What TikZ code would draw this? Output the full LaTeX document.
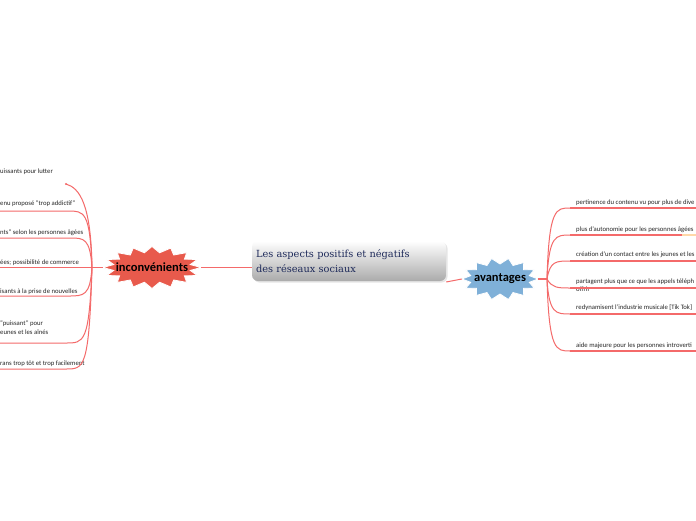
\documentclass[tikz,border=0pt]{standalone}
\usepackage{fontspec}
\setmainfont{Carlito}
\newfontfamily\titlefont{DejaVu Serif}
\usetikzlibrary{shadows}
\definecolor{lnred}{HTML}{F46A6A}
\definecolor{incfill}{HTML}{E85A4C}
\definecolor{avfill}{HTML}{7FB0D8}
\definecolor{navy}{HTML}{1E2A5A}
\definecolor{lorange}{HTML}{FFD8A8}
\tikzset{
  ln/.style={draw=lnred, line width=1pt},
  rln/.style={draw=lnred, line width=1.4pt},
  small/.style={inner sep=0pt, anchor=base west, font=\fontsize{6.7}{8}\selectfont, text=black!85},
  central/.style={rounded corners=6pt, minimum width=194pt, minimum height=40pt,
     top color=white, bottom color=black!33, text=navy, align=left, text width=186pt,
     font=\titlefont\fontsize{9.8}{15}\selectfont,
     drop shadow={opacity=0.2, shadow xshift=1.5pt, shadow yshift=-1.5pt}},
  starlabel/.style={inner sep=0pt, font=\bfseries\fontsize{12.5}{14}\selectfont, text=black}
}
\begin{document}
\begin{tikzpicture}[x=1pt,y=-1pt]
\useasboundingbox[fill=white] (0,0) rectangle (696,520);

% central node
\node[central] (c) at (349,261) {Les aspects positifs et négatifs\\des réseaux sociaux};

% stars
\filldraw[fill=incfill, draw=white, line width=0.8pt] plot[variable=\k, samples at={0,...,31}]
  ({152+(49-10*mod(\k,2))*cos(\k*11.25)}, {267.5+(21-6*mod(\k,2))*sin(\k*11.25)}) -- cycle;
\node[starlabel, minimum width=98pt, minimum height=42pt] (inc) at (152,267.5) {inconvénients};

\filldraw[fill=avfill, draw=white, line width=0.8pt] plot[variable=\k, samples at={0,...,27}]
  ({500+(38-8*mod(\k,2))*cos(\k*360/28)}, {279+(21-6*mod(\k,2))*sin(\k*360/28)}) -- cycle;
\node[starlabel, minimum width=76pt, minimum height=42pt] (av) at (500,279) {avantages};

% main connectors
\draw[ln] (inc.east -| c.west) -- (inc.east);
\draw[ln] (c.east |- 0,282) -- (av.west);

% hubs
\coordinate (lh) at (92,267.5);
\coordinate (rh) at (547,279);
\coordinate (ledge) at (0,267.5);
\coordinate (redge) at (696,0);
\draw[ln] (inc.west) -- (lh);
\draw[rln] (av.east) -- (rh);

% left branches
\coordinate (l1) at (66,184);
\coordinate (l2) at (68,211);
\coordinate (l3) at (70,238);
\coordinate (l5) at (68,296);
\coordinate (l6) at (66,343);
\coordinate (l7) at (66,369);

\node[small] (t1) at (0,173) {uissants pour lutter};
\node[small] (t2) at (0,205) {enu proposé "trop addictif"};
\node[small] (t3) at (0,234) {nts" selon les personnes âgées};
\node[small] (t4) at (0,264) {ées; possibilité de commerce};
\node[small] (t5) at (0,293) {isants à la prise de nouvelles};
\node[small] (t6a) at (0,325) {"puissant" pour};
\node[small] (t6b) at (0,334) {eunes et les aînés};
\node[small] (t7) at (0,365) {rans trop tôt et trop facilement};

\draw[ln] (lh) .. controls (91,205) and (80,188) .. (l1);
\fill[lnred] (l1) circle (1.1pt);
\draw[ln] (lh) .. controls (90,211) and (84,211) .. (l2) -- (l2 -| ledge);
\draw[ln] (lh) .. controls (90,238) and (84,238) .. (l3) -- (l3 -| ledge);
\draw[ln] (lh) -- (ledge);
\draw[ln] (lh) .. controls (90,296) and (84,296) .. (l5) -- (l5 -| ledge);
\draw[ln] (lh) .. controls (89,343) and (84,343) .. (l6) -- (l6 -| ledge);
\draw[ln] (lh) .. controls (89,369) and (84,369) .. (l7) -- (l7 -| ledge);

% right branches
\coordinate (r1) at (570,208);
\coordinate (r2) at (570,235);
\coordinate (r3) at (570,261);
\coordinate (r4) at (570,288);
\coordinate (r5) at (570,314);
\coordinate (r6) at (570,351);

\node[small] (s1) at (576,204) {pertinence du contenu vu pour plus de dive};
\node[small] (s2) at (576,231) {plus d'autonomie pour les personnes âgées};
\node[small] (s3) at (576,256) {création d'un contact entre les jeunes et les};
\node[small] (s4a) at (576,283) {partagent plus que ce que les appels téléph};
\node[small] (s4b) at (576,291) {offrir};
\node[small] (s5) at (576,309) {redynamisent l'industrie musicale [Tik Tok]};
\node[small] (s6) at (576,347) {aide majeure pour les personnes introverti};

\draw[ln] (rh) .. controls (549,208) and (556,208) .. (r1);
\draw[ln] (rh) .. controls (549,235) and (556,235) .. (r2);
\draw[ln] (rh) .. controls (550,261) and (556,261) .. (r3);
\draw[ln] (rh) .. controls (552,288) and (558,288) .. (r4);
\draw[ln] (rh) .. controls (549,314) and (556,314) .. (r5);
\draw[ln] (rh) .. controls (549,351) and (556,351) .. (r6);

\draw[rln] (r1) -- (r1 -| redge);
\draw[rln] (r2) -- (682,235);
\draw[line width=1.4pt, draw=lorange] (682,235) -- (r2 -| redge);
\draw[rln] (r3) -- (r3 -| redge);
\draw[rln] (r4) -- (r4 -| redge);
\draw[rln] (r5) -- (r5 -| redge);
\draw[rln] (r6) -- (r6 -| redge);
\end{tikzpicture}
\end{document}
